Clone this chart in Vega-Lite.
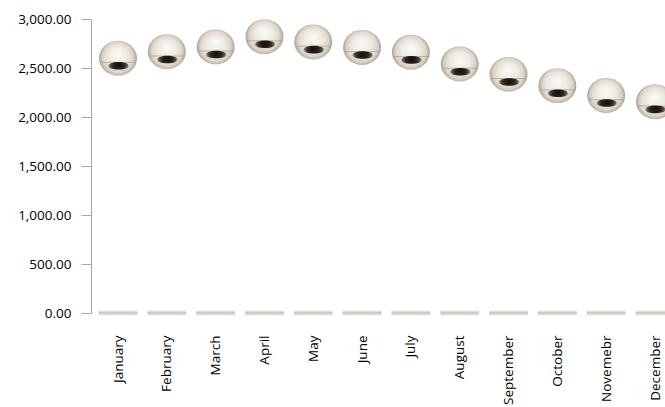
{
  "$schema": "https://vega.github.io/schema/vega-lite/v6.json",
  "autosize": {"type": "none"},
  "padding": {"left": 91, "top": 19, "right": 11, "bottom": 94},
  "width": 563,
  "height": 294,
  "background": "white",
  "data": {
    "values": [
      {"month": "January", "value": 2600},
      {"month": "February", "value": 2665},
      {"month": "March", "value": 2715},
      {"month": "April", "value": 2820},
      {"month": "May", "value": 2765},
      {"month": "June", "value": 2710},
      {"month": "July", "value": 2660},
      {"month": "August", "value": 2540},
      {"month": "September", "value": 2435},
      {"month": "October", "value": 2320},
      {"month": "Novemebr", "value": 2220},
      {"month": "December", "value": 2155}
    ]
  },
  "encoding": {
    "x": {
      "field": "month",
      "type": "nominal",
      "sort": null,
      "scale": {"type": "point", "range": [27, 564], "padding": 0},
      "axis": {
        "title": null,
        "domain": false,
        "ticks": false,
        "grid": false,
        "labelAngle": -90,
        "labelPadding": 22,
        "labelFont": "Open Sans",
        "labelFontSize": 13.5,
        "labelColor": "#000000"
      }
    }
  },
  "layer": [
    {
      "mark": {
        "type": "point",
        "shape": "M-1,-0.16 L1,-0.16 L1,0.16 L-1,0.16 Z",
        "size": 1521,
        "filled": true,
        "opacity": 1,
        "strokeWidth": 0,
        "fill": {
          "gradient": "linear",
          "x1": 0, "y1": 0, "x2": 0, "y2": 1,
          "stops": [
            {"offset": 0, "color": "rgba(200,196,190,0)"},
            {"offset": 0.5, "color": "#c6c2bd"},
            {"offset": 1, "color": "rgba(200,196,190,0)"}
          ]
        }
      },
      "encoding": {
        "y": {
          "datum": 0,
          "type": "quantitative",
          "scale": {"domain": [0, 3000], "nice": false},
          "axis": {
            "title": null,
            "values": [0, 500, 1000, 1500, 2000, 2500, 3000],
            "format": ",.2f",
            "domainColor": "#a6a6a6",
            "tickColor": "#a6a6a6",
            "tickSize": 10,
            "labelPadding": 10,
            "labelFont": "Open Sans",
            "labelFontSize": 13.5,
            "labelColor": "#000000",
            "gridColor": "#ababab",
            "gridOpacity": {"condition": {"test": "datum.value === 0", "value": 0}, "value": 1}
          }
        }
      }
    },
    {
      "mark": {
        "type": "point",
        "shape": "M-1,0 A1,0.92 0 1,0 1,0 A1,0.92 0 1,0 -1,0 Z",
        "size": 1444,
        "filled": true,
        "opacity": 1,
        "strokeWidth": 0,
        "fill": {
          "gradient": "radial",
          "x1": 0.5, "y1": 0.38, "r1": 0,
          "x2": 0.5, "y2": 0.5, "r2": 0.5,
          "stops": [
            {"offset": 0, "color": "#fbfaf6"},
            {"offset": 0.5, "color": "#eeeae2"},
            {"offset": 0.8, "color": "#dcd5c9"},
            {"offset": 1, "color": "#aaa294"}
          ]
        }
      },
      "encoding": {"y": {"field": "value", "type": "quantitative"}}
    },
    {
      "mark": {
        "type": "point",
        "shape": "M-0.93,0.22 L0.93,0.22",
        "size": 1444,
        "filled": false,
        "opacity": 0.5,
        "stroke": "#8f897f",
        "strokeWidth": 1
      },
      "encoding": {"y": {"field": "value", "type": "quantitative"}}
    },
    {
      "mark": {
        "type": "point",
        "shape": "M-0.52,0.4 A0.55,0.2 0 1,0 0.58,0.4 A0.55,0.2 0 1,0 -0.52,0.4 Z",
        "size": 1444,
        "filled": true,
        "opacity": 1,
        "strokeWidth": 0,
        "fill": {
          "gradient": "radial",
          "x1": 0.5, "y1": 0.45, "r1": 0,
          "x2": 0.5, "y2": 0.5, "r2": 0.5,
          "stops": [
            {"offset": 0, "color": "#120e0a"},
            {"offset": 0.55, "color": "#2e2822"},
            {"offset": 0.85, "color": "#6a6258"},
            {"offset": 1, "color": "rgba(150,140,128,0.2)"}
          ]
        }
      },
      "encoding": {"y": {"field": "value", "type": "quantitative"}}
    }
  ],
  "config": {"view": {"stroke": null}}
}
